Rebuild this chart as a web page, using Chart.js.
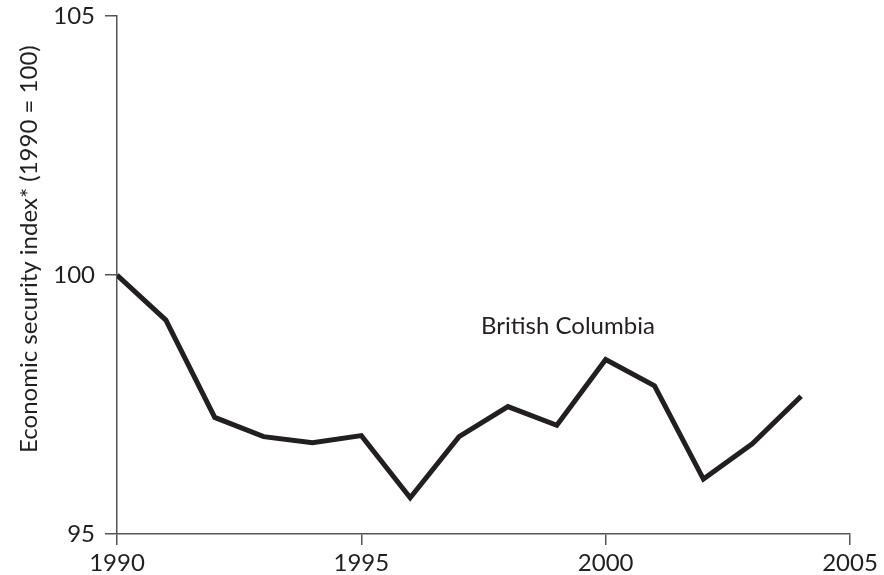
<!DOCTYPE html>
<html>
<head>
<meta charset="utf-8">
<script src="https://cdn.jsdelivr.net/npm/chart.js@4/dist/chart.umd.min.js"></script>
<style>
html,body{margin:0;padding:0;background:#fff;}
#wrap{width:884px;height:575px;}
</style>
</head>
<body>
<div id="wrap"><canvas id="c" width="884" height="575"></canvas></div>
<script>
const years = [1990,1991,1992,1993,1994,1995,1996,1997,1998,1999,2000,2001,2002,2003,2004];
const bcValues = [100,99.13,97.25,96.88,96.76,96.90,95.70,96.88,97.46,97.10,98.37,97.86,96.06,96.74,97.66];
const xTicks = [1990,1995,2000,2005];
const yTicks = [95,100,105];
const seriesLabel = 'British Columbia';
const yTitle = 'Economic security index* (1990 = 100)';

const FONT = 'Lato, "Open Sans", sans-serif';
const INK = '#231f20';
const AXIS = '#555555';

const labelPlugin = {
  id: 'labels',
  afterDraw(chart) {
    const ctx = chart.ctx;
    const xs = chart.scales.x, ys = chart.scales.y;
    ctx.save();
    ctx.fillStyle = INK;
    ctx.font = '24px ' + FONT;
    ctx.textAlign = 'left';
    ctx.textBaseline = 'alphabetic';
    ctx.fillText(seriesLabel, xs.getPixelForValue(1997.45), ys.getPixelForValue(98.86));
    ctx.font = '24px ' + FONT;
    ctx.translate(29, ys.getPixelForValue(100.5));
    ctx.rotate(-Math.PI/2);
    ctx.textAlign = 'center';
    ctx.textBaseline = 'middle';
    ctx.fillText(yTitle, 0, 0);
    ctx.restore();
  }
};

new Chart(document.getElementById('c'), {
  type: 'line',
  data: {
    datasets: [{
      label: seriesLabel,
      data: years.map((y,i)=>({x:y, y:bcValues[i]})),
      borderColor: INK,
      borderWidth: 5,
      pointRadius: 0,
      tension: 0,
      fill: false,
      borderJoinStyle: 'miter'
    }]
  },
  options: {
    responsive: false,
    animation: false,
    layout: { padding: { left: 0, right: 34, top: 16, bottom: 0 } },
    plugins: { legend: { display: false }, tooltip: { enabled: false } },
    scales: {
      x: {
        type: 'linear', min: 1990, max: 2005,
        afterBuildTicks(s){ s.ticks = xTicks.map(v=>({value:v})); },
        afterFit(s){ s.height = 41; s.paddingLeft = 0; s.paddingRight = 0; },
        ticks: { color: INK, font: { family: FONT, size: 24 }, padding: 4, maxRotation: 0, callback: v => String(v) },
        grid: { drawOnChartArea: false, drawTicks: true, tickLength: 11, color: AXIS, lineWidth: 1.5 },
        border: { display: true, color: AXIS, width: 1.5 }
      },
      y: {
        type: 'linear', min: 95, max: 105,
        afterBuildTicks(s){ s.ticks = yTicks.map(v=>({value:v})); },
        afterFit(s){ s.width = 117; s.paddingTop = 0; s.paddingBottom = 0; },
        ticks: { color: INK, font: { family: FONT, size: 24 }, padding: 10, callback: v => String(v) },
        grid: { drawOnChartArea: false, drawTicks: true, tickLength: 12, color: AXIS, lineWidth: 1.5 },
        border: { display: true, color: AXIS, width: 1.5 }
      }
    }
  },
  plugins: [labelPlugin]
});
</script>
</body>
</html>
